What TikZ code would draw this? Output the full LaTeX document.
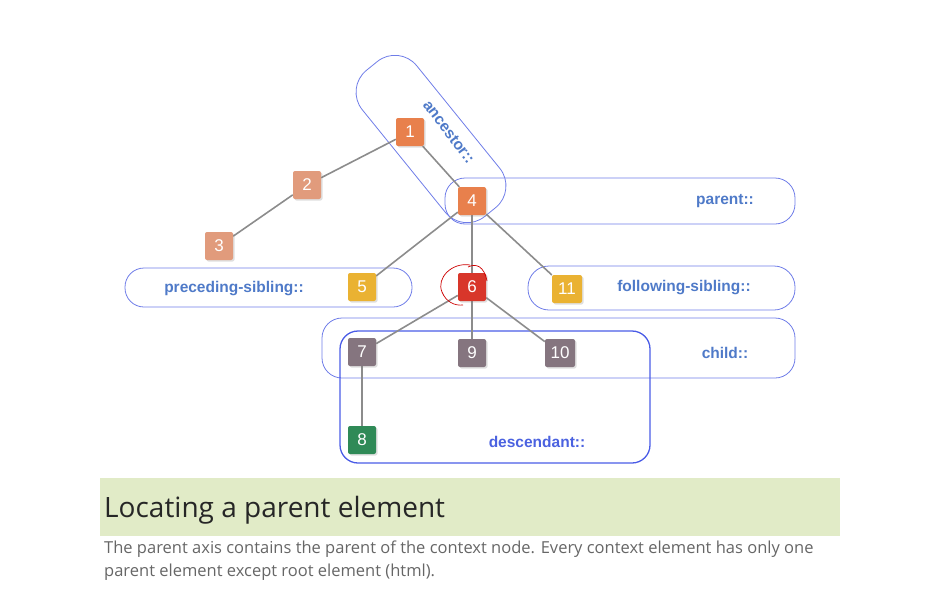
\documentclass[tikz,border=0pt]{standalone}
\usepackage{fontspec}
\setmainfont{Liberation Sans}
\newfontfamily\opensans{Open Sans}
\usetikzlibrary{backgrounds,shadows}

\definecolor{axisline}{HTML}{6F7DE8}
\definecolor{descline}{HTML}{4A5CE6}
\definecolor{labelblue}{HTML}{4F7AC8}
\definecolor{linkgray}{HTML}{8C8C8C}
\definecolor{rootorange}{HTML}{E8804C}
\definecolor{paleorange}{HTML}{E19B7C}
\definecolor{sibyellow}{HTML}{EAB232}
\definecolor{selfred}{HTML}{D8362A}
\definecolor{childgray}{HTML}{85757F}
\definecolor{descgreen}{HTML}{2F8A57}
\definecolor{bandgreen}{HTML}{E1EBC7}

\begin{document}
\begin{tikzpicture}[x=1pt, y=-1pt,
  elem/.style={rectangle, rounded corners=2pt, minimum size=28pt, inner sep=0pt,
    text=white, font=\fontsize{17}{17}\selectfont,
    drop shadow={opacity=0.25, shadow xshift=1.5pt, shadow yshift=-1.5pt}},
  axis/.style={draw=axisline, line width=0.8pt},
  axislabel/.style={text=labelblue, font=\bfseries\fontsize{15.5}{15.5}\selectfont},
  link/.style={draw=linkgray, line width=1.6pt}]
  \useasboundingbox (0,0) rectangle (947,597);

  % the tree
  \node[elem, fill=rootorange] (n1) at (410,132) {1};
  \node[elem, fill=paleorange] (n2) at (307,185) {2};
  \node[elem, fill=paleorange] (n3) at (219,246) {3};
  \node[elem, fill=rootorange] (n4) at (472,201) {4};
  \node[elem, fill=sibyellow] (n5) at (362,287) {5};
  \node[elem, fill=selfred] (n6) at (472,287) {6};
  \node[elem, fill=sibyellow, minimum width=30pt] (n11) at (567,289) {11};
  \node[elem, fill=childgray] (n7) at (362,352) {7};
  \node[elem, fill=childgray] (n9) at (472,353) {9};
  \node[elem, fill=childgray, minimum width=30pt] (n10) at (560,353) {10};
  \node[elem, fill=descgreen] (n8) at (362,440) {8};

  \begin{scope}[on background layer]
    % axis boxes
    \node[axis, rounded corners=28pt, minimum width=188pt, minimum height=70pt,
      rotate=-51] (ancestorbox) at (431,139) {};
    \draw[axis, rounded corners=20pt] (445,178) rectangle (795,224);
    \draw[axis, rounded corners=19pt] (125,268) rectangle (412,307);
    \draw[axis, rounded corners=21pt] (528,266) rectangle (795,310);
    \draw[axis, rounded corners=20pt] (322,318) rectangle (795,378);
    \draw[draw=descline, line width=1.3pt, rounded corners=18pt] (340,331) rectangle (650,463);
    % links
    \foreach \a/\b in {n1/n2, n2/n3, n1/n4, n4/n5, n4/n6, n4/n11, n6/n7, n6/n9, n6/n10, n7/n8}
      \draw[link] (\a) -- (\b);
  \end{scope}

  % axis names
  \node[axislabel, rotate=-53] (ancestorlabel) at (449,132) {ancestor::};
  \node[axislabel] (parentlabel) at (725,201) {parent::};
  \node[axislabel] (precedinglabel) at (234,289) {preceding-sibling::};
  \node[axislabel] (followinglabel) at (684,288) {following-sibling::};
  \node[axislabel] (childlabel) at (725,353) {child::};
  \node[axislabel, text=descline!80!labelblue] (desclabel) at (537,442) {descendant::};

  % hand mark round the context node
  \draw[red!80!black, line width=0.7pt] (470,265) .. controls (452,262) and (436,278) .. (442,292)
    .. controls (446,302) and (455,306) .. (463,305);
  \draw[red!80!black, line width=0.7pt] (468,267) .. controls (476,263) and (484,266) .. (487,281);

  % caption
  \fill[bandgreen] (100,478) rectangle (840,536);
  \node[anchor=base west, inner sep=0pt, text=black!85, font=\opensans\fontsize{28}{28}\selectfont]
    (title) at (104,517) {Locating a parent element};
  \node[anchor=base west, inner sep=0pt, text=black!60, align=left,
    font=\opensans\fontsize{16.5}{23}\selectfont] (body) at (104,576)
    {The parent axis contains the parent of the context node. Every context element has only one\\
     parent element except root element (html).};
\end{tikzpicture}
\end{document}
